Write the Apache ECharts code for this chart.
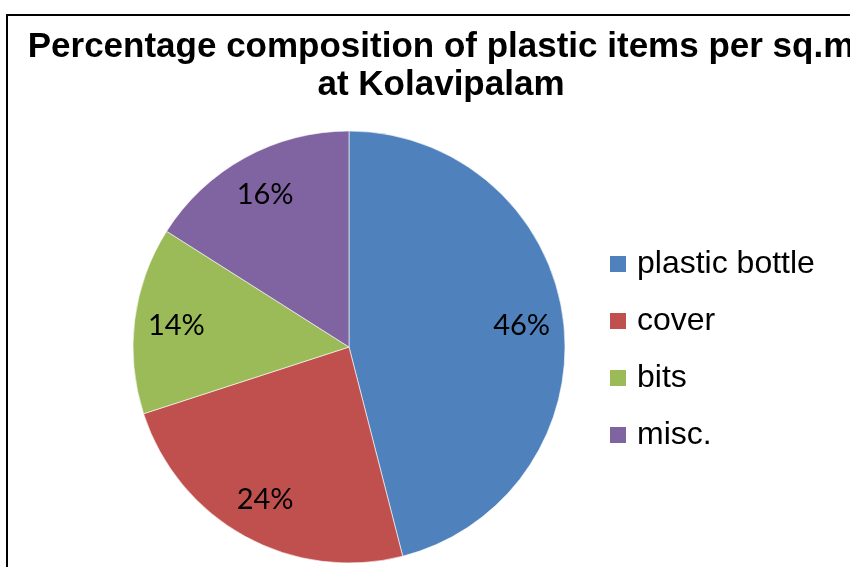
<!DOCTYPE html>
<html>
<head>
<meta charset="utf-8">
<script src="https://cdn.jsdelivr.net/npm/echarts@6/dist/echarts.min.js"></script>
<style>
  html, body { margin: 0; padding: 0; background: #fff; }
  #chart { width: 850px; height: 567px; }
</style>
</head>
<body>
<div id="chart"></div>
<script>
'use strict';

const titleLines = ['Percentage composition of plastic items per sq.m', 'at Kolavipalam'];
const categories = ['plastic bottle', 'cover', 'bits', 'misc.'];
const shares = [46, 24, 14, 16];
const colors = ['#4F81BD', '#C0504D', '#9BBB59', '#8064A2'];

(function () {
  const chart = echarts.init(document.getElementById('chart'), null, { renderer: 'canvas' });

  const pieData = categories.map((name, i) => ({ name: name, value: shares[i] }));

  const option = {
    animation: false,
    color: colors,
    graphic: [{
      type: 'rect',
      shape: { x: 7, y: 15, width: 900, height: 600 },
      style: { fill: 'none', stroke: '#000', lineWidth: 2 },
      z: 0
    }],
    title: {
      text: titleLines.join('\n'),
      left: 436,
      top: 23,
      textAlign: 'center',
      textStyle: {
        fontFamily: 'Liberation Sans, Arial, sans-serif',
        fontWeight: 'bold',
        fontSize: 35,
        lineHeight: 38,
        color: '#000'
      }
    },
    legend: {
      orient: 'vertical',
      left: 603,
      top: 243,
      icon: 'rect',
      itemWidth: 18,
      itemHeight: 18,
      itemGap: 25,
      data: categories,
      textStyle: {
        fontFamily: 'Liberation Sans, Arial, sans-serif',
        fontSize: 32,
        lineHeight: 32,
        color: '#000',
        padding: [0, 0, 0, 5]
      }
    },
    series: [{
      type: 'pie',
      center: [349, 347],
      radius: [0, 216],
      startAngle: 90,
      clockwise: true,
      label: { show: false },
      labelLine: { show: false },
      itemStyle: { borderColor: '#fff', borderWidth: 0.6 },
      emphasis: { disabled: true },
      data: pieData
    }, {
      // transparent ring used only to place the percentage labels at ~0.8 r
      type: 'pie',
      center: [349, 347],
      radius: [126, 216],
      startAngle: 90,
      clockwise: true,
      silent: true,
      itemStyle: { color: 'transparent', borderWidth: 0 },
      label: {
        show: true,
        position: 'inside',
        formatter: (p) => p.value + '%',
        fontFamily: 'Lato, Open Sans, sans-serif',
        fontSize: 29,
        color: '#000'
      },
      labelLine: { show: false },
      emphasis: { disabled: true },
      data: pieData
    }]
  };

  chart.setOption(option);
})();
</script>
</body>
</html>
